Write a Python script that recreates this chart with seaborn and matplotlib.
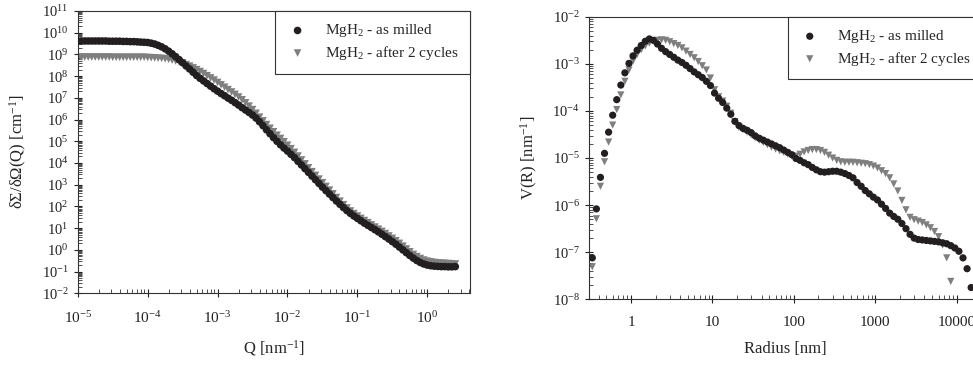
import numpy as np
import pandas as pd
import seaborn as sns
import matplotlib.pyplot as plt
from matplotlib.ticker import LogLocator, FuncFormatter, NullFormatter

# log10 of Q [nm^-1] and of the scattering cross section [cm^-1]
q_log = [-5.0, -4.95, -4.9, -4.85, -4.8, -4.75, -4.7, -4.65, -4.6, -4.55,
         -4.5, -4.45, -4.4, -4.35, -4.3, -4.25, -4.2, -4.15, -4.1, -4.05,
         -4.0, -3.95, -3.9, -3.85, -3.8, -3.75, -3.7, -3.65, -3.6, -3.55,
         -3.5, -3.45, -3.4, -3.35, -3.3, -3.25, -3.2, -3.15, -3.1, -3.05,
         -3.0, -2.95, -2.9, -2.85, -2.8, -2.75, -2.7, -2.65, -2.6, -2.55,
         -2.5, -2.45, -2.4, -2.35, -2.3, -2.25, -2.2, -2.15, -2.1, -2.05,
         -2.0, -1.95, -1.9, -1.85, -1.8, -1.75, -1.7, -1.65, -1.6, -1.55,
         -1.5, -1.45, -1.4, -1.35, -1.3, -1.25, -1.2, -1.15, -1.1, -1.05,
         -1.0, -0.95, -0.9, -0.85, -0.8, -0.75, -0.7, -0.65, -0.6, -0.55,
         -0.5, -0.45, -0.4, -0.35, -0.3, -0.25, -0.2, -0.15, -0.1, -0.05,
         0.0, 0.05, 0.1, 0.15, 0.2, 0.25, 0.3, 0.35, 0.4]
iq_milled = [9.62, 9.62, 9.62, 9.62, 9.62, 9.62, 9.62, 9.62, 9.62, 9.61,
             9.61, 9.61, 9.61, 9.60, 9.60, 9.59, 9.59, 9.58, 9.57, 9.56,
             9.55, 9.52, 9.48, 9.42, 9.35, 9.26, 9.15, 9.03, 8.90, 8.76,
             8.62, 8.47, 8.33, 8.18, 8.03, 7.90, 7.78, 7.66, 7.54, 7.42,
             7.31, 7.20, 7.10, 6.99, 6.89, 6.78, 6.67, 6.55, 6.44, 6.33,
             6.21, 6.07, 5.90, 5.72, 5.53, 5.35, 5.17, 5.00, 4.84, 4.69,
             4.55, 4.40, 4.25, 4.08, 3.91, 3.74, 3.57, 3.40, 3.23, 3.06,
             2.89, 2.73, 2.57, 2.41, 2.25, 2.10, 1.95, 1.81, 1.68, 1.56,
             1.45, 1.34, 1.23, 1.13, 1.03, 0.93, 0.83, 0.72, 0.61, 0.50,
             0.38, 0.26, 0.13, 0.00, -0.13, -0.26, -0.38, -0.49, -0.58, -0.65,
             -0.70, -0.73, -0.75, -0.76, -0.77, -0.77, -0.78, -0.78, -0.77]
iq_cycled = [8.88, 8.88, 8.88, 8.88, 8.88, 8.88, 8.88, 8.88, 8.88, 8.88,
             8.87, 8.87, 8.87, 8.87, 8.87, 8.87, 8.87, 8.87, 8.87, 8.87,
             8.86, 8.85, 8.84, 8.83, 8.82, 8.80, 8.78, 8.74, 8.70, 8.65,
             8.60, 8.53, 8.46, 8.38, 8.30, 8.21, 8.12, 8.02, 7.92, 7.82,
             7.71, 7.60, 7.49, 7.38, 7.27, 7.16, 7.04, 6.91, 6.77, 6.62,
             6.46, 6.29, 6.11, 5.94, 5.77, 5.60, 5.44, 5.28, 5.13, 4.98,
             4.82, 4.66, 4.49, 4.32, 4.14, 3.96, 3.78, 3.60, 3.43, 3.26,
             3.09, 2.92, 2.75, 2.58, 2.41, 2.24, 2.08, 1.93, 1.79, 1.67,
             1.56, 1.45, 1.35, 1.25, 1.15, 1.05, 0.95, 0.85, 0.75, 0.64,
             0.53, 0.42, 0.30, 0.17, 0.04, -0.09, -0.21, -0.31, -0.40, -0.47,
             -0.52, -0.55, -0.58, -0.60, -0.61, -0.62, -0.63, -0.64, -0.65]

# log10 of radius [nm] and of the volume distribution [nm^-1]
r_log = [-0.475, -0.425, -0.375, -0.325, -0.275, -0.225, -0.175, -0.125, -0.075, -0.025,
         0.025, 0.075, 0.125, 0.175, 0.225, 0.275, 0.325, 0.375, 0.425, 0.475,
         0.525, 0.575, 0.625, 0.675, 0.725, 0.775, 0.825, 0.875, 0.925, 0.975,
         1.025, 1.075, 1.125, 1.175, 1.225, 1.275, 1.325, 1.375, 1.425, 1.475,
         1.525, 1.575, 1.625, 1.675, 1.725, 1.775, 1.825, 1.875, 1.925, 1.975,
         2.025, 2.075, 2.125, 2.175, 2.225, 2.275, 2.325, 2.375, 2.425, 2.475,
         2.525, 2.575, 2.625, 2.675, 2.725, 2.775, 2.825, 2.875, 2.925, 2.975,
         3.025, 3.075, 3.125, 3.175, 3.225, 3.275, 3.325, 3.375, 3.425, 3.475,
         3.525, 3.575, 3.625, 3.675, 3.725, 3.775, 3.825, 3.875, 3.925, 3.975,
         4.025, 4.075, 4.125, 4.175]
vr_milled = [-7.12, -6.08, -5.41, -4.90, -4.45, -4.09, -3.76, -3.45, -3.19, -2.99,
             -2.83, -2.71, -2.61, -2.52, -2.47, -2.50, -2.58, -2.67, -2.74, -2.80,
             -2.86, -2.92, -2.97, -3.03, -3.10, -3.17, -3.23, -3.29, -3.37, -3.46,
             -3.62, -3.73, -3.82, -3.94, -4.07, -4.22, -4.31, -4.37, -4.41, -4.46,
             -4.53, -4.58, -4.62, -4.66, -4.70, -4.74, -4.78, -4.83, -4.88, -4.93,
             -5.01, -5.05, -5.10, -5.14, -5.20, -5.25, -5.29, -5.30, -5.29, -5.28,
             -5.28, -5.30, -5.33, -5.37, -5.42, -5.52, -5.60, -5.69, -5.76, -5.83,
             -5.89, -5.98, -6.07, -6.17, -6.24, -6.30, -6.39, -6.50, -6.62, -6.70,
             -6.73, -6.74, -6.75, -6.76, -6.77, -6.78, -6.80, -6.82, -6.86, -6.91,
             -6.98, -7.12, -7.35, -7.75]
vr_cycled = [-7.31, -6.29, -5.60, -5.08, -4.66, -4.30, -3.97, -3.66, -3.37, -3.13,
             -2.94, -2.80, -2.70, -2.62, -2.56, -2.52, -2.50, -2.49, -2.50, -2.53,
             -2.57, -2.61, -2.66, -2.73, -2.80, -2.87, -2.95, -3.04, -3.13, -3.30,
             -3.55, -3.70, -3.79, -3.90, -4.05, -4.23, -4.35, -4.40, -4.45, -4.51,
             -4.57, -4.62, -4.67, -4.72, -4.77, -4.81, -4.85, -4.88, -4.92, -4.96,
             -4.96, -4.92, -4.87, -4.84, -4.82, -4.82, -4.84, -4.88, -4.94, -5.00,
             -5.05, -5.08, -5.09, -5.09, -5.09, -5.10, -5.11, -5.12, -5.14, -5.17,
             -5.21, -5.27, -5.33, -5.42, -5.55, -5.70, -5.90, -6.10, -6.26, -6.31,
             -6.34, -6.37, -6.42, -6.48, -6.56, -6.67, -6.85, -7.12, -7.62, np.nan,
             np.nan, np.nan, np.nan, np.nan]

lab_milled = 'MgH$_2$ - as milled'
lab_cycled = 'MgH$_2$ - after 2 cycles'

sns.set_style('ticks')
plt.rcParams['font.family'] = ['Liberation Serif', 'DejaVu Serif']
plt.rcParams['mathtext.fontset'] = 'custom'
plt.rcParams['mathtext.rm'] = 'Liberation Serif'
plt.rcParams['mathtext.it'] = 'Liberation Serif:italic'
plt.rcParams['axes.edgecolor'] = '#333333'

saxs = pd.DataFrame({'q': 10 ** np.array(q_log),
                     'milled': 10 ** np.array(iq_milled),
                     'cycled': 10 ** np.array(iq_cycled)})
dist = pd.DataFrame({'r': 10 ** np.array(r_log),
                     'milled': 10 ** np.array(vr_milled),
                     'cycled': 10 ** np.array(vr_cycled)})

fig = plt.figure(figsize=(9.73, 3.65), dpi=100)
ax1 = fig.add_axes([0.0799, 0.1964, 0.4031, 0.7734])
ax2 = fig.add_axes([0.6054, 0.180, 0.404, 0.774])

for ax, df, xcol, sz in [(ax1, saxs, 'q', 30), (ax2, dist, 'r', 27)]:
    ax.set_xscale('log')
    ax.set_yscale('log')
    sns.scatterplot(data=df, x=xcol, y='milled', ax=ax, marker='o', s=sz,
                    color='#231f20', edgecolor='none', label=lab_milled, zorder=3)
    sns.scatterplot(data=df, x=xcol, y='cycled', ax=ax, marker='v', s=sz,
                    color='#7f7f7f', edgecolor='none', label=lab_cycled, zorder=2)
    for sp in ax.spines.values():
        sp.set_linewidth(0.8)
    ax.tick_params(which='major', direction='inout', length=6, width=0.8,
                   labelsize=11, colors='#222222')
    ax.tick_params(which='minor', direction='in', length=3, width=0.6, colors='#333333')
    ax.tick_params(axis='x', which='major', pad=9)
    ax.tick_params(axis='y', which='major', labelsize=10.5)
    ax.yaxis.set_major_locator(LogLocator(base=10, numticks=20))
    ax.yaxis.set_minor_locator(LogLocator(base=10, subs=np.arange(2, 10), numticks=20))
    ax.yaxis.set_minor_formatter(NullFormatter())
    ax.xaxis.set_minor_locator(LogLocator(base=10, subs=np.arange(2, 10), numticks=20))
    ax.xaxis.set_minor_formatter(NullFormatter())
    leg = ax.legend(loc='upper right', borderaxespad=0, fancybox=False,
                    edgecolor='#333333', framealpha=1, fontsize=11, borderpad=0.75,
                    handlelength=1.4, handletextpad=1.1, labelspacing=0.3,
                    scatterpoints=1)
    leg.get_frame().set_linewidth(0.8)

ax1.set_xlim(1e-5, 10 ** 0.61)
ax1.set_ylim(1e-2, 1e11)
ax1.xaxis.set_major_locator(LogLocator(base=10, numticks=20))
ax1.set_xlabel('Q [nm$^{-1}$]', fontsize=12, labelpad=9)
ax1.set_ylabel('δΣ/δΩ(Q) [cm$^{-1}$]', fontsize=12, labelpad=9)

ax2.set_xlim(10 ** -0.515, 10 ** 4.31)
ax2.set_ylim(1e-8, 1e-2)
ax2.xaxis.set_major_locator(LogLocator(base=10, numticks=20))
ax2.xaxis.set_major_formatter(FuncFormatter(lambda v, p: f'{v:g}'))
ax2.set_xlabel('Radius [nm]', fontsize=12, labelpad=9)
ax2.set_ylabel('V(R) [nm$^{-1}$]', fontsize=12, labelpad=9)

fig.savefig('out.png', dpi=100)
